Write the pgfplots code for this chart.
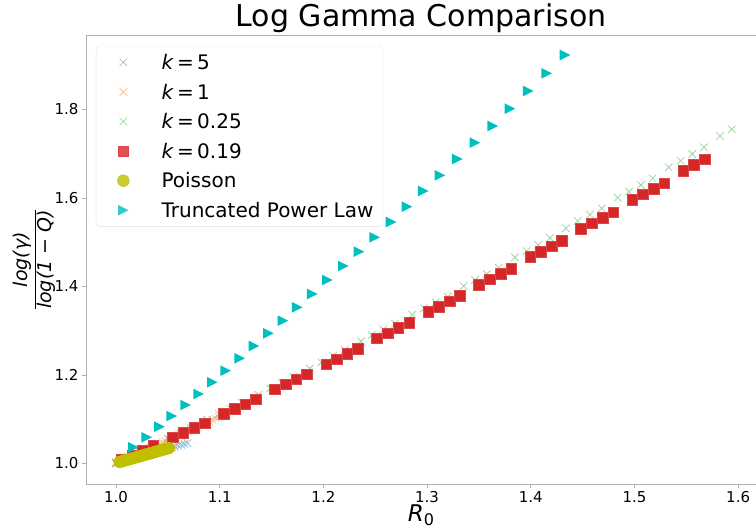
\documentclass[border=0pt]{standalone}
\usepackage{fontspec}
\setmainfont{DejaVu Sans}
\usepackage{pgfplots}
\pgfplotsset{compat=1.18}

\definecolor{c0}{HTML}{1F77B4}
\definecolor{c1}{HTML}{FF7F0E}
\definecolor{c2}{HTML}{2CA02C}
\definecolor{c3}{HTML}{D62728}
\definecolor{c4}{HTML}{BFBF00}
\definecolor{c5}{HTML}{00BFBF}
\definecolor{spine}{HTML}{B0B0B0}

% matplotlib style right-pointing triangle
\pgfdeclareplotmark{tright}{%
  \pgfpathmoveto{\pgfqpoint{\pgfplotmarksize}{0pt}}%
  \pgfpathlineto{\pgfqpoint{-\pgfplotmarksize}{\pgfplotmarksize}}%
  \pgfpathlineto{\pgfqpoint{-\pgfplotmarksize}{-\pgfplotmarksize}}%
  \pgfpathclose\pgfusepathqfill}

\pgfplotsset{
  lgd/.style={legend image code/.code={%
    \path (-6pt,0pt) (24pt,0pt);
    \draw[mark repeat=2,mark phase=2,##1] plot coordinates {(0pt,0pt) (12pt,0pt) (24pt,0pt)};}},
  xmark/.style={only marks, mark=x, mark size=5.3pt,
    mark options={line width=0.8pt, opacity=0.45}, lgd},
}

\begin{document}
\begin{tikzpicture}
\begin{axis}[
  width=670pt, height=449pt, scale only axis,
  xmin=0.97107, xmax=1.6172, ymin=0.95367, ymax=1.96836,
  axis lines*=left,
  axis line style={spine, line width=0.8pt, -},
  tick style={spine, line width=0.8pt},
  tick align=outside, major tick length=4pt,
  xtick={1.0,1.1,1.2,1.3,1.4,1.5,1.6},
  ytick={1.0,1.2,1.4,1.6,1.8},
  /pgf/number format/fixed, /pgf/number format/fixed zerofill,
  /pgf/number format/precision=1,
  /pgf/number format/assume math mode=true,
  tick label style={font=\fontsize{15}{18}\selectfont, text=black},
  title={Log Gamma Comparison},
  title style={font=\fontsize{30}{36}\selectfont, at={(axis description cs:0.5,1)}, anchor=base, yshift=2.7pt},
  xlabel={\textit{R}\raisebox{-0.18em}{\fontsize{16}{16}\selectfont 0}},
  x label style={font=\fontsize{23}{26}\selectfont, at={(axis description cs:0.5,0)}, anchor=base, yshift=-37pt},
  ylabel={$\displaystyle\frac{\hbox{\itshape log(γ)}}{\hbox{\itshape log(1 − Q)}}$},
  y label style={font=\fontsize{19}{23}\selectfont, at={(axis description cs:0,0.5)}, rotate=0, anchor=center, xshift=0pt, yshift=52pt},
  legend style={at={(axis description cs:0.0149,0.976)}, anchor=north west,
    draw=black!12, rounded corners=3pt, fill=white, fill opacity=0.8, text opacity=1,
    font=\fontsize{20}{24}\selectfont, inner xsep=9pt, inner ysep=9pt,
    column sep=26pt, row sep=15pt,
    nodes={inner sep=0pt, text height=14.6pt, text depth=0pt}},
  legend cell align=left,
]
% k = 5
\addplot[xmark, c0] coordinates {
(1.000,1.0000) (1.003,1.0020) (1.006,1.0040) (1.009,1.0060) (1.012,1.0080)
(1.015,1.0101) (1.018,1.0121) (1.021,1.0141) (1.024,1.0161) (1.027,1.0181)
(1.030,1.0201) (1.033,1.0221) (1.036,1.0241) (1.039,1.0261) (1.042,1.0281)
(1.045,1.0302) (1.048,1.0322) (1.051,1.0342) (1.054,1.0362) (1.057,1.0382)
(1.060,1.0402) (1.063,1.0422) (1.066,1.0442) (1.069,1.0462)
};
% k = 1
\addplot[xmark, c1] coordinates {
(1.000,1.0000) (1.003,1.0032) (1.006,1.0064) (1.009,1.0095) (1.012,1.0127)
(1.015,1.0159) (1.018,1.0191) (1.021,1.0223) (1.024,1.0254) (1.027,1.0286)
(1.030,1.0318) (1.033,1.0350) (1.036,1.0382) (1.039,1.0413) (1.042,1.0445)
(1.045,1.0477) (1.048,1.0509) (1.051,1.0541) (1.054,1.0572) (1.057,1.0604)
(1.060,1.0636) (1.063,1.0668) (1.066,1.0700) (1.069,1.0731) (1.072,1.0763)
(1.075,1.0795) (1.078,1.0827) (1.081,1.0859) (1.084,1.0890) (1.087,1.0922)
(1.090,1.0954) (1.093,1.0986) (1.096,1.1018) (1.099,1.1049) (1.102,1.1081)
};
% k = 0.25
\addplot[xmark, c2] coordinates {
(1.0000,1.0023) (1.0115,1.0154) (1.0228,1.0271) (1.0384,1.0443)
(1.0497,1.0565) (1.0610,1.0687) (1.0722,1.0807) (1.0878,1.0988)
(1.0991,1.1121) (1.1104,1.1247) (1.1217,1.1374) (1.1373,1.1550)
(1.1486,1.1697) (1.1599,1.1828) (1.1712,1.1962) (1.1868,1.2147)
(1.1981,1.2287) (1.2094,1.2434) (1.2206,1.2565) (1.2363,1.2762)
(1.2466,1.2904) (1.2578,1.3033) (1.2690,1.3159) (1.2857,1.3363)
(1.2970,1.3507) (1.3083,1.3643) (1.3199,1.3769) (1.3353,1.4011)
(1.3462,1.4147) (1.3575,1.4282) (1.3690,1.4425) (1.3848,1.4660)
(1.3960,1.4802) (1.4072,1.4938) (1.4185,1.5096) (1.4339,1.5315)
(1.4452,1.5480) (1.4571,1.5623) (1.4684,1.5767) (1.4838,1.6007)
(1.4947,1.6142) (1.5063,1.6294) (1.5175,1.6445) (1.5330,1.6694)
(1.5445,1.6843) (1.5557,1.6994) (1.5670,1.7146) (1.5824,1.7401)
(1.5937,1.7552)
};
% k = 0.19
\addplot[only marks, mark=square*, mark size=5.3pt, c3,
  mark options={line width=0.5pt, draw=c3!85!white, fill=c3}, lgd] coordinates {
(1.0054,1.0079) (1.0156,1.0185) (1.0258,1.0292) (1.0361,1.0398)
(1.0547,1.0592) (1.0649,1.0696) (1.0755,1.0802) (1.0855,1.0908)
(1.1041,1.1119) (1.1145,1.1232) (1.1247,1.1338) (1.1347,1.1451)
(1.1533,1.1677) (1.1636,1.1790) (1.1739,1.1903) (1.1842,1.2016)
(1.2028,1.2242) (1.2128,1.2355) (1.2230,1.2475) (1.2334,1.2588)
(1.2517,1.2829) (1.2620,1.2942) (1.2722,1.3062) (1.2828,1.3175)
(1.3012,1.3424) (1.3115,1.3544) (1.3218,1.3666) (1.3317,1.3785)
(1.3500,1.4041) (1.3604,1.4163) (1.3710,1.4282) (1.3812,1.4402)
(1.3995,1.4667) (1.4098,1.4786) (1.4201,1.4908) (1.4301,1.5035)
(1.4484,1.5306) (1.4587,1.5428) (1.4693,1.5555) (1.4796,1.5677)
(1.4979,1.5955) (1.5082,1.6084) (1.5185,1.6203) (1.5287,1.6332)
(1.5471,1.6617) (1.5574,1.6746) (1.5677,1.6875)
};
% Poisson
\addplot[only marks, mark=*, mark size=5.9pt, c4,
  mark options={draw=none, fill=c4}, lgd] coordinates {
(1.0035,1.0035) (1.0060,1.0052) (1.0085,1.0068) (1.0110,1.0085)
(1.0135,1.0101) (1.0160,1.0118) (1.0185,1.0134) (1.0210,1.0151)
(1.0235,1.0167) (1.0260,1.0184) (1.0285,1.0200) (1.0310,1.0217)
(1.0335,1.0233) (1.0360,1.0250) (1.0385,1.0266) (1.0410,1.0283)
(1.0435,1.0299) (1.0460,1.0316) (1.0485,1.0332) (1.0510,1.0349)
};
% Truncated power law
\addplot[only marks, mark=tright, mark size=5.3pt, c5,
  mark options={draw=none, fill=c5}, lgd] coordinates {
(1.0167,1.0366) (1.0296,1.0592) (1.0418,1.0832) (1.0537,1.1073)
(1.0672,1.1322) (1.0797,1.1571) (1.0929,1.1835) (1.1058,1.2097)
(1.1193,1.2377) (1.1331,1.2655) (1.1469,1.2942) (1.1610,1.3227)
(1.1748,1.3530) (1.1893,1.3831) (1.2038,1.4147) (1.2192,1.4463)
(1.2343,1.4786) (1.2495,1.5112) (1.2652,1.5458) (1.2806,1.5803)
(1.2963,1.6158) (1.3124,1.6513) (1.3291,1.6881) (1.3462,1.7250)
(1.3633,1.7627) (1.3799,1.8018) (1.3976,1.8418) (1.4153,1.8818)
(1.4330,1.9232)
};
\legend{\textit{k}\,=\,5, \textit{k}\,=\,1, \textit{k}\,=\,0.25, \textit{k}\,=\,0.19, Poisson, Truncated Power Law}
\draw[spine, line width=0.8pt] (rel axis cs:0,1) -- (rel axis cs:1,1);
\coordinate (ll) at (rel axis cs:0,0);
\coordinate (ur) at (rel axis cs:1,1);
\end{axis}
\pgfresetboundingbox
\path[use as bounding box] ([xshift=-86pt,yshift=-45pt]ll) rectangle ([yshift=35pt]ur);
\end{tikzpicture}
\end{document}
